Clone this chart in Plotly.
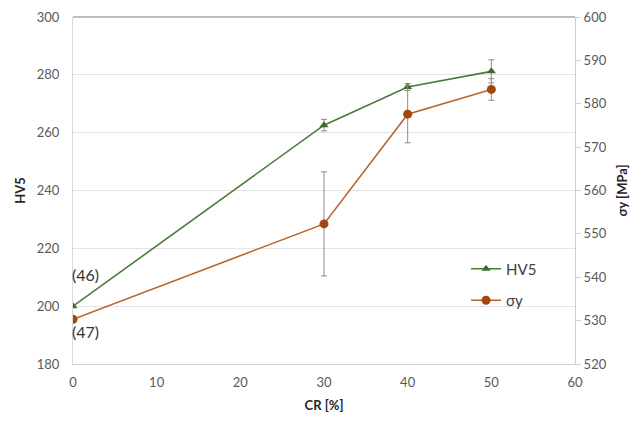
import plotly.graph_objects as go

cr = [0, 30, 40, 50]
hv5 = [200, 262.6, 275.8, 281.2]
hv5_err = [0, 2.0, 1.2, 4.0]
sigma_y = [530.3, 552.3, 577.6, 583.3]
sigma_err = [0, 12.0, 6.6, 2.5]

x_ticks = [0, 10, 20, 30, 40, 50, 60]
hv_ticks = [180, 200, 220, 240, 260, 280, 300]
sig_ticks = [520, 530, 540, 550, 560, 570, 580, 590, 600]

font_family = "Lato, 'Open Sans', sans-serif"
err_color = "#8c8c8c"

fig = go.Figure()
fig.add_trace(go.Scatter(
    x=cr, y=hv5, name="HV5", mode="lines+markers", legendgroup="a",
    line=dict(color="#4b7a3b", width=1.6),
    marker=dict(symbol="triangle-up", size=8, color="#3b6e2c"),
    error_y=dict(type="data", array=hv5_err, color=err_color, thickness=1, width=3),
    yaxis="y"))
fig.add_trace(go.Scatter(
    x=cr, y=sigma_y, name="σy", mode="lines+markers", legendgroup="b",
    line=dict(color="#b8652a", width=1.6),
    marker=dict(symbol="circle", size=9, color="#a4470f"),
    error_y=dict(type="data", array=sigma_err, color=err_color, thickness=1, width=3),
    yaxis="y2"))

fig.add_annotation(x=0, y=210.8, xref="x", yref="y", text="(46)", showarrow=False,
                   xanchor="left", xshift=-3, font=dict(size=16, color="#333333", family=font_family))
fig.add_annotation(x=0, y=191.3, xref="x", yref="y", text="(47)", showarrow=False,
                   xanchor="left", xshift=-3, font=dict(size=16, color="#333333", family=font_family))

fig.update_layout(
    width=630, height=412,
    margin=dict(l=65, r=63, t=9, b=56),
    plot_bgcolor="white", paper_bgcolor="white",
    font=dict(family=font_family, size=13, color="#595959"),
    showlegend=True,
    legend=dict(x=0.783, y=0.229, xanchor="left", yanchor="middle",
                bgcolor="rgba(0,0,0,0)", font=dict(size=15, color="#404040"),
                tracegroupgap=9, itemwidth=30),
    xaxis=dict(range=[0, 60], tickvals=x_ticks, showgrid=False, zeroline=False,
               showline=True, linecolor="#d0d0d0", linewidth=1, mirror=False,
               ticks="outside", ticklen=6, tickcolor="rgba(0,0,0,0)", automargin=False,
               title=dict(text="<b>CR [%]</b>", font=dict(size=13, color="#262626"), standoff=12)),
    yaxis=dict(range=[180, 300], tickvals=hv_ticks, showgrid=True, gridcolor="#e3e3e3",
               gridwidth=1, zeroline=False, showline=True, linecolor="#d9d9d9",
               ticks="outside", ticklen=10, tickcolor="rgba(0,0,0,0)", automargin=False,
               title=dict(text="<b>HV5</b>", font=dict(size=13, color="#262626"), standoff=8)),
    yaxis2=dict(range=[520, 600], tickvals=sig_ticks, overlaying="y", side="right",
                showgrid=False, zeroline=False, showline=True, linecolor="#d0d0d0",
                ticks="outside", ticklen=5, tickcolor="#d0d0d0", automargin=False,
                title=dict(text="<b>σy [MPa]</b>", font=dict(size=13, color="#262626"), standoff=12)),
)

fig.add_shape(type="line", xref="paper", yref="paper", x0=0, x1=1, y0=1, y1=1,
              line=dict(color="#a6a6a6", width=1.5))

fig.write_html("out.html")
